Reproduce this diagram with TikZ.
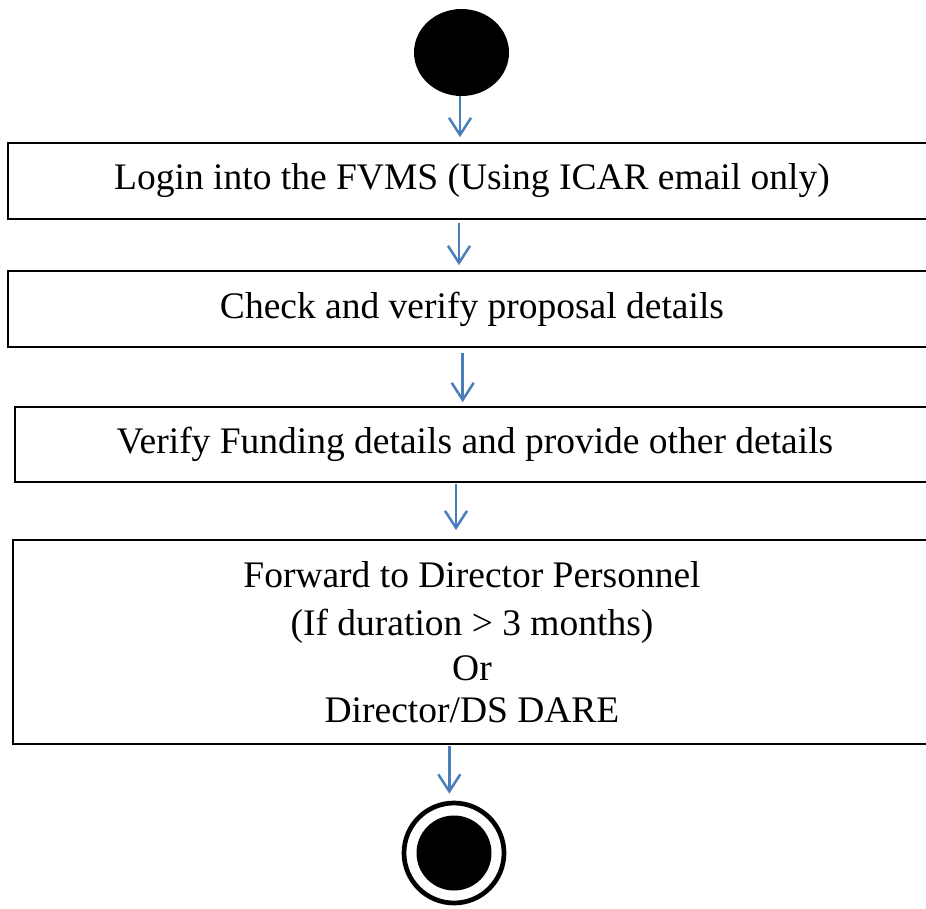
\documentclass[tikz,border=0pt]{standalone}
\usepackage{fontspec}
\setmainfont{Liberation Serif}
\usetikzlibrary{arrows.meta,shapes.geometric}
\definecolor{flowblue}{RGB}{74,126,187}
\tikzset{
	activity/.style={draw,line width=1.7pt,rectangle,inner sep=0pt,align=center,font=\fontsize{37.5}{45}\selectfont},
	flow/.style={draw=flowblue,line width=2.5pt,-{Straight Barb[length=17pt,width=22pt]}},
}
\begin{document}
\begin{tikzpicture}[x=1pt,y=-1pt]
\useasboundingbox (0,0) rectangle (926,908);
\node[ellipse,fill=black,minimum width=95pt,minimum height=87pt,inner sep=0pt] (start) at (461.5,52.5) {};
\node[activity,minimum width=928pt,minimum height=76pt] (login) at (472,181) {Login into the FVMS (Using ICAR email only)};
\node[activity,minimum width=928pt,minimum height=76pt] (check) at (472,309) {Check and verify proposal details};
\node[activity,minimum width=920pt,minimum height=75pt] (funding) at (475,444.5) {Verify Funding details and provide other details};
\node[activity,minimum width=918pt,minimum height=204pt] (forward) at (472,642) {Forward to Director Personnel\\[3pt] (If duration > 3 months)\\ Or\\[-3pt] Director/DS DARE};
% final state
\node[draw,circle,line width=4.7pt,minimum size=100pt,inner sep=0pt] (final) at (454,853) {};
\node[circle,fill=black,minimum size=75pt,inner sep=0pt] (finaldot) at (final) {};
\draw[flow] ([xshift=-1.5pt]start.south) -- ([xshift=-12pt,yshift=5pt]login.north);
\draw[flow] ([xshift=-13pt,yshift=-3pt]login.south) -- ([xshift=-13pt,yshift=5pt]check.north);
\draw[flow] ([xshift=-9.3pt,yshift=-5pt]check.south) -- ([xshift=-12.3pt,yshift=4pt]funding.north);
\draw[flow] ([xshift=-19pt,yshift=-1pt]funding.south) -- ([xshift=-16pt,yshift=9pt]forward.north);
\draw[flow] ([xshift=-22.7pt,yshift=-1pt]forward.south) -- ([xshift=-4.7pt,yshift=7pt]final.north);
\end{tikzpicture}
\end{document}
